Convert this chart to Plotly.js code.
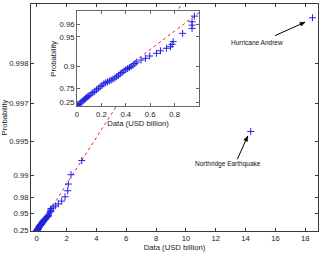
<!DOCTYPE html>
<html>
<head>
<meta charset="utf-8">
<script src="https://cdn.plot.ly/plotly-3.0.1.min.js"></script>
<style>
  html, body { margin: 0; padding: 0; background: #ffffff; }
  #chart { width: 321px; height: 253px; }
</style>
</head>
<body>
<div id="chart"></div>
<script>
// Insured losses (USD billion), sorted, with their empirical cumulative probabilities
const lossUSDbn = [
  0.002, 0.005, 0.010, 0.020, 0.030, 0.040, 0.050, 0.060, 0.070, 0.080,
  0.090, 0.100, 0.115, 0.130, 0.145, 0.160, 0.175, 0.190, 0.205, 0.220,
  0.235, 0.250, 0.265, 0.280, 0.295, 0.310, 0.325, 0.340, 0.355, 0.370,
  0.385, 0.400, 0.415, 0.430, 0.445, 0.460, 0.475, 0.490, 0.525, 0.561,
  0.596, 0.651, 0.684, 0.733, 0.766, 0.779, 0.788, 0.866, 0.943, 0.943,
  0.943, 0.962, 1.10, 1.27, 1.45, 1.68, 1.90, 2.08, 2.12, 2.30,
  3.02, 14.34, 18.48
];
const cumProb = [
  0.003, 0.012, 0.029, 0.133, 0.239, 0.325, 0.396, 0.456, 0.506, 0.549,
  0.586, 0.615, 0.652, 0.683, 0.710, 0.734, 0.756, 0.775, 0.791, 0.806,
  0.815, 0.822, 0.829, 0.835, 0.842, 0.849, 0.856, 0.864, 0.871, 0.877,
  0.883, 0.888, 0.892, 0.895, 0.899, 0.903, 0.907, 0.911, 0.9157, 0.9194,
  0.9241, 0.9290, 0.9331, 0.9368, 0.9390, 0.9419, 0.9451, 0.9532, 0.9571, 0.9594,
  0.9616, 0.9648, 0.9675, 0.9698, 0.9728, 0.9761, 0.9802, 0.9842, 0.9873, 0.9902,
  0.9929, 0.9957, 0.9986
];

// Fitted reference line (end points)
const fitLoss = [0, 18.5];
const fitProb = [0, 0.99951];

// Tick labels
const mainProbTicks = [0.25, 0.95, 0.98, 0.99, 0.995, 0.997, 0.998];
const mainLossTicks = [0, 2, 4, 6, 8, 10, 12, 14, 16, 18];
const insetProbTicks = [0.25, 0.75, 0.9, 0.95, 0.96];
const insetLossTicks = [0, 0.2, 0.4, 0.6, 0.8];

// Probability paper: the vertical axis is linear in (1 - p)^(-2/3)
function probScale(p) { return Math.pow(1 - p, -2 / 3); }

const yData = cumProb.map(probScale);
const yFit = fitProb.map(probScale);

const FONT = 'Liberation Sans, Arial, Helvetica, sans-serif';
const AXIS_COLOR = '#3a3a3a';
const markerStyle = { symbol: 'cross-thin-open', size: 5, line: { color: '#2323e6', width: 1 }, color: '#2323e6' };
const fitStyle = { color: '#e8262b', width: 1, dash: '3px,3px' };

const traces = [
  { x: fitLoss, y: yFit, mode: 'lines', line: fitStyle, xaxis: 'x', yaxis: 'y', hoverinfo: 'skip' },
  { x: lossUSDbn, y: yData, mode: 'markers', marker: markerStyle, xaxis: 'x', yaxis: 'y' },
  { x: fitLoss, y: yFit, mode: 'lines', line: fitStyle, xaxis: 'x2', yaxis: 'y2', hoverinfo: 'skip' },
  { x: lossUSDbn, y: yData, mode: 'markers', marker: markerStyle, xaxis: 'x2', yaxis: 'y2' }
];

const labelFont = { family: FONT, size: 7.7, color: '#222' };
const annFont = { family: FONT, size: 6.5, color: '#111' };
const axisCommon = {
  showline: true, linecolor: AXIS_COLOR, linewidth: 1, mirror: 'ticks',
  ticks: 'inside', ticklen: 3, tickwidth: 1, tickcolor: AXIS_COLOR,
  showgrid: false, zeroline: false, tickfont: labelFont
};

const insetXRange = [0, 1.0];
const insetYRange = [0.857, 9.79];

// Callout arrows: a shaft and a filled head, sized in pixels from the tip
function callout(tipX, tipY, shaft, head) {
  return [
    { type: 'line', xref: 'x', yref: 'y', xsizemode: 'pixel', ysizemode: 'pixel',
      xanchor: tipX, yanchor: tipY, x0: shaft[0], y0: shaft[1], x1: 0, y1: 0,
      line: { color: '#000', width: 1 }, layer: 'above' },
    { type: 'path', xref: 'x', yref: 'y', xsizemode: 'pixel', ysizemode: 'pixel',
      xanchor: tipX, yanchor: tipY, path: head,
      fillcolor: '#000', line: { color: '#000', width: 0.5 }, layer: 'above' }
  ];
}

const layout = {
  width: 321, height: 253,
  margin: { l: 31, r: 3, t: 4, b: 22 },
  showlegend: false,
  xaxis: Object.assign({}, axisCommon, {
    domain: [0, 1], range: [-0.38, 18.85],
    tickvals: mainLossTicks, ticktext: mainLossTicks.map(String),
    title: { text: 'Data (USD billion)', font: labelFont, standoff: 2 }, anchor: 'y'
  }),
  yaxis: Object.assign({}, axisCommon, {
    domain: [0, 1], range: [1, 85],
    tickvals: mainProbTicks.map(probScale), ticktext: mainProbTicks.map(String),
    title: { text: 'Probability', font: labelFont, standoff: 2 }, anchor: 'x'
  }),
  xaxis2: Object.assign({}, axisCommon, {
    domain: [0.1603, 0.5854], range: insetXRange,
    tickvals: insetLossTicks, ticktext: insetLossTicks.map(String),
    title: { text: 'Data (USD billion)', font: labelFont, standoff: 1 }, anchor: 'y2',
    linecolor: '#666', tickcolor: '#666'
  }),
  yaxis2: Object.assign({}, axisCommon, {
    domain: [0.5485, 0.9692], range: insetYRange,
    tickvals: insetProbTicks.map(probScale), ticktext: insetProbTicks.map(String),
    title: { text: 'Probability', font: labelFont, standoff: 1 }, anchor: 'x2',
    linecolor: '#666', tickcolor: '#666'
  }),
  shapes: [
    // opaque backing for the inset so the main traces stay behind it
    { type: 'rect', xref: 'x2', yref: 'y2',
      x0: insetXRange[0], x1: insetXRange[1], y0: insetYRange[0], y1: insetYRange[1],
      fillcolor: '#ffffff', line: { width: 0 }, layer: 'below' }
  ].concat(
    callout(17.98, 78.25, [-30, -13.4], 'M0,0 L-5.38,-0.21 L-3.74,-3.87 Z'),
    callout(14.14, 36.14, [-10.4, -23.3], 'M0,0 L-3.87,-3.75 L-0.21,-5.39 Z')
  ),
  annotations: [
    { xref: 'paper', yref: 'paper', x: 0.789, y: 0.8295, xanchor: 'center', yanchor: 'middle',
      text: 'Hurricane Andrew', showarrow: false, font: annFont },
    { xref: 'paper', yref: 'paper', x: 0.6847, y: 0.2938, xanchor: 'center', yanchor: 'middle',
      text: 'Northridge Earthquake', showarrow: false, font: annFont }
  ]
};

Plotly.newPlot('chart', traces, layout, { staticPlot: true, displayModeBar: false });
</script>
</body>
</html>
